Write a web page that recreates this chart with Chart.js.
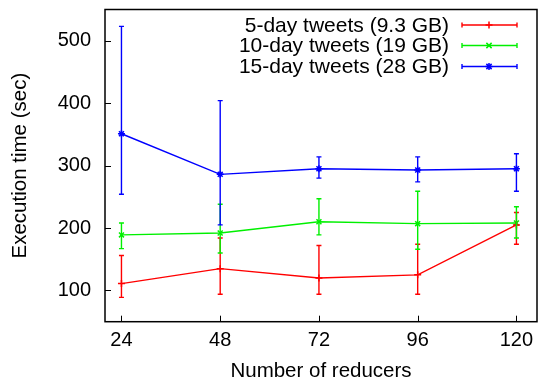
<!DOCTYPE html>
<html>
<head>
<meta charset="utf-8">
<script src="https://cdn.jsdelivr.net/npm/chart.js@4/dist/chart.umd.min.js"></script>
<style>
  html, body { margin: 0; padding: 0; background: #fff; }
  #wrap { width: 542px; height: 385px; }
</style>
</head>
<body>
<div id="wrap"><canvas id="c" width="542" height="385"></canvas></div>
<script>
// ---- data ----
const reducers = [24, 48, 72, 96, 120];
const yTicks = [100, 200, 300, 400, 500];

const labels = ["5-day tweets (9.3 GB)", "10-day tweets (19 GB)", "15-day tweets (28 GB)"];

const day5Mean = [111, 135, 120, 125, 205];
const day5Low  = [89, 94, 94, 94, 174];
const day5High = [156, 184, 172, 174, 225];

const day10Mean = [189, 192, 210, 207, 208];
const day10Low  = [167, 160, 189, 166, 184];
const day10High = [208, 238, 247, 259, 234];

const day15Mean = [351, 286, 295, 293, 295];
const day15Low  = [254, 205, 280, 274, 259];
const day15High = [523, 404, 314, 314, 319];

const FONT = "'Liberation Sans', Arial, Helvetica, sans-serif";

function pts(xs, ys) { return xs.map((x, i) => ({ x: x, y: ys[i] })); }

const series = [
  { label: labels[0], mean: day5Mean, low: day5Low, high: day5High, color: '#ff0000', style: 'cross', r: 3.5 },
  { label: labels[1], mean: day10Mean, low: day10Low, high: day10High, color: '#00f000', style: 'crossRot', r: 3.5 },
  { label: labels[2], mean: day15Mean, low: day15Low, high: day15High, color: '#0000ff', style: 'star', r: 3.5 }
];

function drawMarker(ctx, style, x, y, r) {
  ctx.beginPath();
  if (style === 'cross' || style === 'star') {
    ctx.moveTo(x - r, y); ctx.lineTo(x + r, y);
    ctx.moveTo(x, y - r); ctx.lineTo(x, y + r);
  }
  if (style === 'crossRot' || style === 'star') {
    const d = r * 0.75;
    ctx.moveTo(x - d, y - d); ctx.lineTo(x + d, y + d);
    ctx.moveTo(x - d, y + d); ctx.lineTo(x + d, y - d);
  }
  ctx.stroke();
}

const decorPlugin = {
  id: 'decor',
  afterDatasetsDraw(chart) {
    const ctx = chart.ctx;
    const xs = chart.scales.x, ys = chart.scales.y;
    const cap = 2.5;
    ctx.save();
    // error bars
    chart.data.datasets.forEach((ds, di) => {
      const s = series[di];
      ctx.strokeStyle = s.color;
      ctx.lineWidth = 1.4;
      reducers.forEach((rv, i) => {
        const px = xs.getPixelForValue(rv);
        const pl = ys.getPixelForValue(s.low[i]);
        const ph = ys.getPixelForValue(s.high[i]);
        ctx.beginPath();
        ctx.moveTo(px, pl); ctx.lineTo(px, ph);
        ctx.moveTo(px - cap, pl); ctx.lineTo(px + cap, pl);
        ctx.moveTo(px - cap, ph); ctx.lineTo(px + cap, ph);
        ctx.stroke();
      });
    });
    // frame
    const a = chart.chartArea;
    ctx.strokeStyle = '#000';
    ctx.lineWidth = 1.5;
    ctx.strokeRect(a.left, a.top, a.right - a.left, a.bottom - a.top);
    // inward tick marks
    ctx.lineWidth = 1;
    ctx.beginPath();
    yTicks.forEach(v => {
      const py = Math.round(ys.getPixelForValue(v)) + 0.5;
      ctx.moveTo(a.left, py); ctx.lineTo(a.left + 6, py);
    });
    reducers.forEach(v => {
      const px = Math.round(xs.getPixelForValue(v)) + 0.5;
      ctx.moveTo(px, a.bottom); ctx.lineTo(px, a.bottom - 6);
    });
    ctx.stroke();
    // legend (gnuplot style)
    const textRight = 449, sx0 = 462, sx1 = 517, smid = 489;
    const rows = [25, 45.5, 66.5];
    ctx.font = '21px ' + FONT;
    ctx.textAlign = 'right';
    ctx.textBaseline = 'middle';
    series.forEach((s, i) => {
      const y = rows[i];
      ctx.fillStyle = '#000';
      ctx.fillText(s.label, textRight, y + 1);
      ctx.strokeStyle = s.color;
      ctx.lineWidth = 1.4;
      ctx.beginPath();
      ctx.moveTo(sx0, y); ctx.lineTo(sx1, y);
      ctx.moveTo(sx0, y - cap); ctx.lineTo(sx0, y + cap);
      ctx.moveTo(sx1, y - cap); ctx.lineTo(sx1, y + cap);
      ctx.stroke();
      ctx.lineWidth = 1.5;
      drawMarker(ctx, s.style, smid, y, s.r);
    });
    ctx.restore();
  }
};

const chart = new Chart(document.getElementById('c'), {
  type: 'line',
  data: {
    datasets: series.map(s => ({
      label: s.label,
      data: pts(reducers, s.mean),
      borderColor: s.color,
      backgroundColor: s.color,
      borderWidth: 1.4,
      pointStyle: s.style,
      pointRadius: s.r,
      pointBorderWidth: 1.5,
      pointHoverRadius: s.r,
      tension: 0,
      fill: false
    }))
  },
  options: {
    responsive: false,
    animation: false,
    devicePixelRatio: 1,
    layout: { padding: { left: 0, right: 0.5, top: 9.5, bottom: 0 } },
    plugins: { legend: { display: false }, tooltip: { enabled: false } },
    scales: {
      x: {
        type: 'linear',
        min: 20, max: 125,
        afterBuildTicks: sc => { sc.ticks = reducers.map(v => ({ value: v })); },
        afterFit: sc => { sc.height = 385 - 321.7; sc.paddingLeft = 0; sc.paddingRight = 0; },
        grid: { display: false, drawTicks: false },
        border: { display: false },
        ticks: { color: '#000', font: { family: FONT, size: 20 }, padding: 7, maxRotation: 0, autoSkip: false },
        title: { display: true, text: 'Number of reducers', color: '#000', font: { family: FONT, size: 20.5 }, padding: { top: 0, bottom: 1 } }
      },
      y: {
        type: 'linear',
        min: 50, max: 550,
        afterBuildTicks: sc => { sc.ticks = yTicks.map(v => ({ value: v })); },
        afterFit: sc => { sc.width = 105; sc.paddingTop = 0; sc.paddingBottom = 0; },
        grid: { display: false, drawTicks: false },
        border: { display: false },
        ticks: { color: '#000', font: { family: FONT, size: 20 }, padding: 14 },
        title: { display: true, text: 'Execution time (sec)', color: '#000', font: { family: FONT, size: 20.5 }, padding: { top: 8, bottom: 0 } }
      }
    }
  },
  plugins: [decorPlugin]
});
</script>
</body>
</html>
